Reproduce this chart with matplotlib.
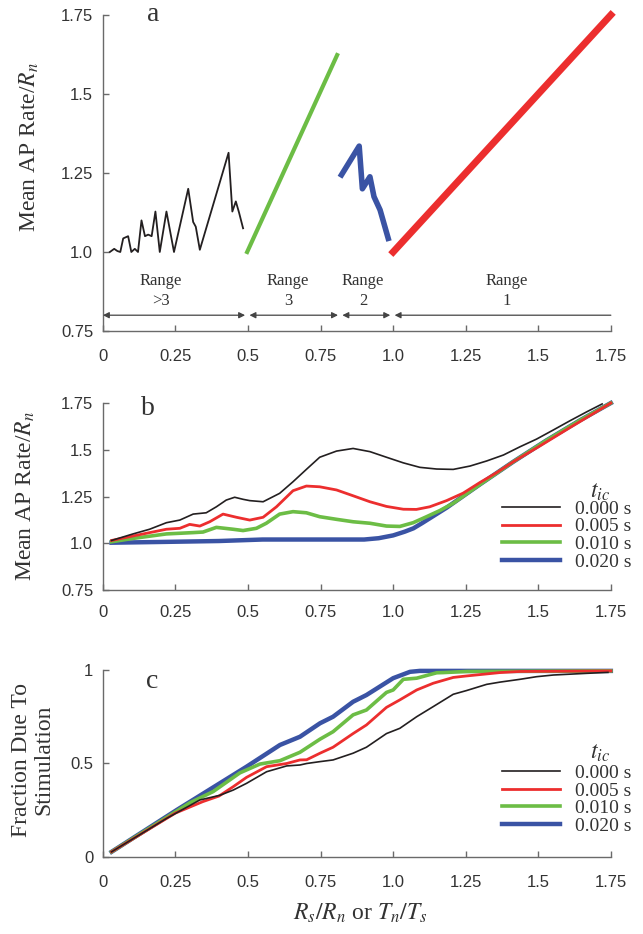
import numpy as np
import matplotlib
matplotlib.use('Agg')
import matplotlib.pyplot as plt
from matplotlib.lines import Line2D


SERIF = 'Liberation Serif'
SANS = 'Liberation Sans'

plt.rcParams['font.family'] = SANS
plt.rcParams['mathtext.fontset'] = 'stix'

BLACK = '#231f20'
RED = '#ec2e2e'
GREEN = '#6cbd45'
BLUE = '#3a53a4'
AXCOL = '#6a6a6a'

# ---- panel a: separate ranges
a_black_x = [0.024, 0.039, 0.050, 0.060, 0.070, 0.087, 0.098, 0.110, 0.121, 0.133,
             0.145, 0.156, 0.168, 0.181, 0.196, 0.219, 0.245, 0.294, 0.311, 0.320,
             0.334, 0.433, 0.446, 0.458, 0.469, 0.483]
a_black_y = [1.0, 1.01, 1.003, 1.0, 1.043, 1.05, 1.0, 1.01, 1.0, 1.10,
             1.05, 1.055, 1.05, 1.128, 1.0, 1.128, 1.0, 1.20, 1.095, 1.08,
             1.007, 1.314, 1.128, 1.16, 1.125, 1.075]
a_green_x = [0.497, 0.807]
a_green_y = [1.0, 1.623]
a_blue_x = [0.822, 0.883, 0.894, 0.920, 0.934, 0.955, 0.983]
a_blue_y = [1.244, 1.335, 1.20, 1.238, 1.175, 1.133, 1.043]
a_red_x = [1.0, 1.75]
a_red_y = [1.0, 1.75]

range_edges = [(0.0, 0.49), (0.505, 0.81), (0.825, 0.99), (1.005, 1.75)]
range_styles = ['<|-|>', '<|-|>', '<|-|>', '<|-']
range_labels = ['Range\n>3', 'Range\n3', 'Range\n2', 'Range\n1']
range_label_x = [0.2, 0.638, 0.896, 1.39]

# ---- panel b: mean AP rate vs Rs/Rn for several t_ic
tic_labels = ['0.000 s', '0.005 s', '0.010 s', '0.020 s']

b_black_x = [0.03, 0.104, 0.161, 0.219, 0.265, 0.311, 0.356, 0.391, 0.425, 0.454,
             0.483, 0.506, 0.552, 0.609, 0.655, 0.701, 0.747, 0.805, 0.862, 0.92,
             0.977, 1.035, 1.092, 1.15, 1.207, 1.265, 1.322, 1.38, 1.437, 1.494,
             1.552, 1.609, 1.667, 1.72]
b_black_y = [1.015, 1.05, 1.075, 1.11, 1.124, 1.156, 1.163, 1.195, 1.231, 1.246,
             1.235, 1.228, 1.222, 1.267, 1.329, 1.395, 1.46, 1.493, 1.507, 1.49,
             1.46, 1.43, 1.406, 1.397, 1.395, 1.413, 1.44, 1.472, 1.516, 1.557,
             1.606, 1.655, 1.703, 1.745]

b_red_x = [0.03, 0.104, 0.219, 0.265, 0.299, 0.334, 0.368, 0.414, 0.46, 0.506,
           0.552, 0.598, 0.655, 0.701, 0.747, 0.805, 0.862, 0.92, 0.977, 1.035,
           1.08, 1.126, 1.184, 1.241, 1.299, 1.357, 1.414, 1.5, 1.6, 1.75]
b_red_y = [1.015, 1.039, 1.075, 1.08, 1.101, 1.092, 1.115, 1.156, 1.139, 1.124,
           1.139, 1.195, 1.281, 1.306, 1.302, 1.285, 1.254, 1.222, 1.197, 1.182,
           1.181, 1.195, 1.228, 1.268, 1.325, 1.378, 1.436, 1.515, 1.61, 1.75]

b_green_x = [0.03, 0.104, 0.219, 0.311, 0.345, 0.391, 0.448, 0.483, 0.529, 0.563,
             0.609, 0.655, 0.701, 0.747, 0.805, 0.862, 0.92, 0.977, 1.023, 1.069,
             1.115, 1.161, 1.207, 1.3, 1.413, 1.528, 1.643, 1.75]
b_green_y = [1.008, 1.026, 1.05, 1.057, 1.06, 1.085, 1.075, 1.068, 1.08, 1.107,
             1.156, 1.169, 1.163, 1.142, 1.128, 1.115, 1.107, 1.092, 1.09, 1.11,
             1.142, 1.175, 1.214, 1.315, 1.435, 1.55, 1.657, 1.75]

b_blue_x = [0.03, 0.2, 0.4, 0.55, 0.75, 0.9, 0.95, 1.0, 1.04, 1.07, 1.1, 1.184,
            1.299, 1.413, 1.528, 1.643, 1.75]
b_blue_y = [1.003, 1.007, 1.012, 1.02, 1.02, 1.02, 1.027, 1.042, 1.062, 1.08, 1.108, 1.19,
            1.315, 1.435, 1.55, 1.657, 1.75]

# ---- panel c: fraction due to stimulation
c_black_x = [0.03, 0.22, 0.334, 0.403, 0.449, 0.495, 0.564, 0.633, 0.679, 0.702,
             0.748, 0.793, 0.862, 0.908, 0.977, 1.023, 1.081, 1.138, 1.207, 1.253,
             1.322, 1.368, 1.437, 1.494, 1.552, 1.667, 1.74]
c_black_y = [0.028, 0.207, 0.305, 0.33, 0.358, 0.394, 0.456, 0.487, 0.492, 0.50,
             0.51, 0.519, 0.555, 0.587, 0.66, 0.688, 0.75, 0.804, 0.87, 0.89,
             0.923, 0.935, 0.95, 0.964, 0.973, 0.982, 0.987]

c_red_x = [0.03, 0.25, 0.344, 0.40, 0.449, 0.495, 0.564, 0.633, 0.679, 0.702,
           0.748, 0.793, 0.862, 0.908, 0.977, 1.023, 1.081, 1.138, 1.207, 1.253,
           1.368, 1.437, 1.75]
c_red_y = [0.028, 0.235, 0.296, 0.326, 0.376, 0.426, 0.483, 0.50, 0.519, 0.52,
           0.555, 0.587, 0.66, 0.706, 0.80, 0.84, 0.893, 0.929, 0.96, 0.968,
           0.986, 0.992, 0.995]

c_green_x = [0.03, 0.30, 0.38, 0.472, 0.541, 0.61, 0.679, 0.748, 0.793, 0.862,
             0.908, 0.977, 1.0, 1.035, 1.081, 1.15, 1.173, 1.254, 1.75]
c_green_y = [0.028, 0.29, 0.35, 0.45, 0.497, 0.515, 0.56, 0.63, 0.67, 0.76,
             0.786, 0.88, 0.893, 0.95, 0.956, 0.985, 0.986, 0.992, 0.995]

c_blue_x = [0.03, 0.254, 0.495, 0.61, 0.679, 0.748, 0.793, 0.862, 0.908, 1.0,
            1.058, 1.092, 1.75]
c_blue_y = [0.028, 0.251, 0.483, 0.599, 0.643, 0.715, 0.75, 0.83, 0.866, 0.956,
            0.99, 0.995, 0.995]

series_colors = [BLACK, RED, GREEN, BLUE]
series_lw = [1.2, 2.0, 2.6, 3.2]

x_ticks = [0, 0.25, 0.5, 0.75, 1.0, 1.25, 1.5, 1.75]
x_ticklabels = ['0', '0.25', '0.5', '0.75', '1.0', '1.25', '1.5', '1.75']
ab_yticks = [0.75, 1.0, 1.25, 1.5, 1.75]
ab_yticklabels = ['0.75', '1.0', '1.25', '1.5', '1.75']
c_yticks = [0, 0.5, 1]
c_yticklabels = ['0', '0.5', '1']


def style_axes(ax, xpad):
    for s in ['top', 'right']:
        ax.spines[s].set_visible(False)
    for s in ['left', 'bottom']:
        ax.spines[s].set_color(AXCOL)
        ax.spines[s].set_linewidth(1.0)
    ax.tick_params(direction='in', length=4, width=1.0, color=AXCOL,
                   labelsize=12, labelcolor='#333333')
    ax.tick_params(axis='x', pad=xpad)
    ax.tick_params(axis='y', pad=7)
    ax.set_xlim(0, 1.75)
    ax.set_xticks(x_ticks)
    ax.set_xticklabels(x_ticklabels)


def set_ylab(ax, text, x, y):
    ax.set_ylabel(text, family=SERIF, fontsize=17, color='#333333')
    ax.yaxis.label.set_va('center')
    ax.yaxis.set_label_coords(x, y)


def add_legend(ax, x, y, title_x, title_y):
    handles = [Line2D([], [], color=c, lw=w) for c, w in zip(series_colors, series_lw)]
    leg = ax.legend(handles, tic_labels, loc='upper left', bbox_to_anchor=(x, y),
                    frameon=False, prop={'family': SERIF, 'size': 14},
                    handlelength=3.0, handletextpad=0.77, labelspacing=0.0,
                    borderpad=0, borderaxespad=0)
    for t in leg.get_texts():
        t.set_color('#333333')
    ax.text(title_x, title_y, '$t_{ic}$', transform=ax.transAxes, fontsize=17,
            ha='center', va='center', color='#333333', clip_on=False)


fig = plt.figure(figsize=(6.43, 9.34), dpi=100)
ax_a = fig.add_axes([0.160, 0.6456, 0.790, 0.3384])
ax_b = fig.add_axes([0.160, 0.3683, 0.790, 0.2002])
ax_c = fig.add_axes([0.160, 0.0824, 0.790, 0.2003])

# panel a
style_axes(ax_a, 13)
ax_a.set_ylim(0.75, 1.75)
ax_a.set_yticks(ab_yticks)
ax_a.set_yticklabels(ab_yticklabels)
ax_a.plot(a_black_x, a_black_y, color=BLACK, lw=1.3, clip_on=False)
ax_a.plot(a_green_x, a_green_y, color=GREEN, lw=3.0, clip_on=False)
ax_a.plot(a_blue_x, a_blue_y, color=BLUE, lw=4.0, clip_on=False)
ax_a.plot(a_red_x, a_red_y, color=RED, lw=5.0, clip_on=False)
for (x0, x1), st in zip(range_edges, range_styles):
    ax_a.annotate('', xy=(x1, 0.80), xytext=(x0, 0.80),
                  arrowprops=dict(arrowstyle=st, mutation_scale=9, color='#444444',
                                  lw=0.9, shrinkA=0, shrinkB=0))
for lab, lx in zip(range_labels, range_label_x):
    ax_a.text(lx, 0.877, lab, family=SERIF, fontsize=12, ha='center', va='center',
              linespacing=1.3, color='#333333')
ax_a.text(0.172, 1.75, 'a', family=SERIF, fontsize=20, ha='center', va='center',
          color='#333333')
set_ylab(ax_a, 'Mean AP Rate/$R_n$', -0.144, 0.582)

# panel b
style_axes(ax_b, 11)
ax_b.set_ylim(0.75, 1.75)
ax_b.set_yticks(ab_yticks)
ax_b.set_yticklabels(ab_yticklabels)
b_series = [(b_black_x, b_black_y), (b_red_x, b_red_y), (b_green_x, b_green_y),
            (b_blue_x, b_blue_y)]
for (xs, ys), c, w in zip(b_series[::-1], series_colors[::-1], series_lw[::-1]):
    ax_b.plot(xs, ys, color=c, lw=w, clip_on=False)
ax_b.text(0.155, 1.72, 'b', family=SERIF, fontsize=20, ha='center', va='center',
          color='#333333')
set_ylab(ax_b, 'Mean AP Rate/$R_n$', -0.152, 0.5)
add_legend(ax_b, 0.785, 0.48, 0.978, 0.525)

# panel c
style_axes(ax_c, 13)
ax_c.set_ylim(0, 1)
ax_c.set_yticks(c_yticks)
ax_c.set_yticklabels(c_yticklabels)
c_series = [(c_black_x, c_black_y), (c_red_x, c_red_y), (c_green_x, c_green_y),
            (c_blue_x, c_blue_y)]
for (xs, ys), c, w in zip(c_series[::-1], series_colors[::-1], series_lw[::-1]):
    ax_c.plot(xs, ys, color=c, lw=w, clip_on=False)
ax_c.text(0.168, 0.94, 'c', family=SERIF, fontsize=20, ha='center', va='center',
          color='#333333')
ax_c.set_ylabel('Fraction Due To\nStimulation', family=SERIF, fontsize=17,
                color='#333333', linespacing=1.05)
ax_c.yaxis.label.set_va('center')
ax_c.yaxis.set_label_coords(-0.138, 0.52)
ax_c.set_xlabel('$R_s/R_n$ or $T_n/T_s$', family=SERIF, fontsize=17, color='#333333')
ax_c.xaxis.label.set_va('center')
ax_c.xaxis.set_label_coords(0.506, -0.30)
add_legend(ax_c, 0.785, 0.495, 0.978, 0.556)

fig.savefig('out.png', dpi=100)
